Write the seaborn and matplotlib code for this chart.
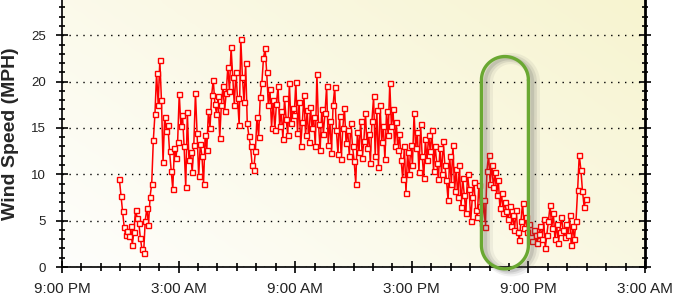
import numpy as np
import pandas as pd
import matplotlib
matplotlib.use("Agg")
import matplotlib.pyplot as plt
import matplotlib.dates as mdates
from matplotlib.lines import Line2D
from matplotlib.transforms import IdentityTransform
from matplotlib.colors import LinearSegmentedColormap
import seaborn as sns

# ---------------- data (wind speed, MPH, one reading every 5 minutes) ----------------
start_time = "2024-01-01 23:57"
interval = "5min"

wind_overnight = [
    9.5, 7.7, 6.0, 4.3, 3.4, 3.9, 3.3, 4.4, 2.4, 3.8, 6.2, 5.3,
    4.8, 3.1, 1.9, 1.5, 5.0, 6.4, 4.5, 7.6, 9.0, 13.7, 16.5, 20.9,
    17.5, 22.3, 18.0, 11.3, 16.2, 14.7, 15.3, 12.5, 10.4, 8.4, 12.8, 11.8,
    13.5, 18.7, 15.2, 16.4, 13.0, 8.6, 16.7, 11.5, 12.4, 10.2, 13.2, 18.8,
    14.5, 9.8, 13.3, 12.0, 9.0, 14.2, 12.6, 16.8, 15.0, 18.5, 20.2, 17.6,
    16.5, 18.4, 13.9, 17.5, 19.5, 16.8, 18.8, 21.6, 19.0, 23.7, 20.5, 17.5,
]
wind_morning = [
    21.0, 18.2, 15.3, 24.6, 20.5, 17.8, 22.0, 15.5, 14.1, 13.0, 11.0, 10.5,
    12.5, 16.2, 14.0, 18.3, 19.8, 22.5, 23.6, 21.0, 17.5, 19.2, 15.0, 18.0,
    14.8, 17.6, 19.5, 15.2, 16.8, 13.8, 18.2, 16.0, 14.2, 19.8, 15.5, 17.2,
    16.4, 20.0, 14.5, 17.8, 13.1, 15.6, 18.5, 14.2, 16.9, 13.5, 17.3, 15.0,
    16.2, 13.0, 20.8, 15.4, 12.6, 17.0, 14.4, 16.6, 19.5, 13.2, 15.8, 12.3,
    17.5, 19.4, 14.8, 12.2, 16.3, 11.6, 15.0, 17.2, 13.4, 14.8, 12.0, 15.5,
]
wind_afternoon = [
    13.0, 11.4, 9.0, 14.6, 12.4, 15.8, 11.8, 13.6, 16.6, 12.8, 14.4, 11.2,
    15.8, 18.4, 12.0, 16.9, 10.8, 17.5, 13.5, 15.2, 11.6, 16.8, 14.2, 19.8,
    15.2, 17.0, 13.0, 15.6, 12.6, 14.4, 11.5, 9.5, 13.0, 8.0, 12.4, 10.0,
    13.2, 11.0, 16.6, 12.8, 14.6, 10.2, 15.4, 12.0, 9.6, 13.8, 11.5, 14.2,
    12.5, 14.8, 10.4, 13.0, 11.2, 9.5, 12.8, 10.0, 13.6, 11.0, 9.4, 7.2,
    12.0, 9.0, 13.2, 8.2, 10.6, 7.5, 11.0, 6.5, 9.6, 7.8, 5.8, 10.0,
]
wind_evening = [
    8.4, 5.0, 7.6, 9.2, 6.2, 5.4, 8.8, 6.6, 4.7, 7.2, 4.3, 10.4,
    12.1, 9.0, 11.0, 8.6, 10.2, 7.8, 9.4, 6.4, 8.0, 5.8, 7.0, 6.0,
    5.2, 6.6, 4.4, 5.6, 4.0, 6.2, 3.8, 2.9, 5.0, 6.9, 4.2, 5.4,
    3.8, 4.6, 3.2, 2.8, 4.0, 3.4, 2.6, 3.6, 4.4, 3.0, 5.2, 2.0,
    3.5, 5.0, 6.7, 4.2, 5.8, 3.0, 4.6, 2.6, 3.8, 5.4, 4.0, 3.2,
    4.6, 3.4, 5.6, 2.4, 4.4, 3.0, 5.0, 8.3, 12.1, 10.5, 8.2, 6.5,
    7.3,
]

y_ticks = [0, 5, 10, 15, 20, 25]
x_range = ("2024-01-01 21:00", "2024-01-03 03:00")
highlight_range = ("2024-01-02 18:35", "2024-01-02 21:00")
highlight_y = (-0.2, 22.7)

wind = wind_overnight + wind_morning + wind_afternoon + wind_evening
times = pd.date_range(start=start_time, periods=len(wind), freq=interval)
df = pd.DataFrame({"time": times, "wind": wind})

# ---------------- figure ----------------
sns.set_theme(style="white")
plt.rcParams["font.family"] = ["Liberation Sans", "DejaVu Sans"]

fig = plt.figure(figsize=(6.8, 3.0), dpi=100)
ax = fig.add_axes([62 / 680, 33 / 300, 583 / 680, 267 / 300])

x0 = mdates.date2num(pd.Timestamp(x_range[0]))
x1 = mdates.date2num(pd.Timestamp(x_range[1]))
ymax = 28.8

# gradient background
gx, gy = np.meshgrid(np.linspace(0, 1, 200), np.linspace(0, 1, 100))
grad = 0.6 * gx + 0.4 * (1 - gy)
cmap = LinearSegmentedColormap.from_list("bg", ["#fefefc", "#f7f4d0"])
ax.imshow(grad, extent=[x0, x1, 0, ymax], origin="upper", aspect="auto",
          cmap=cmap, zorder=-5, interpolation="bicubic")

sns.lineplot(data=df, x="time", y="wind", ax=ax, estimator=None,
             color="#ff0000", linewidth=1.1, marker="s", markersize=3.6,
             markerfacecolor="#fffbea", markeredgecolor="#ff0000",
             markeredgewidth=1.0, zorder=3)

ax.set_xlim(x0, x1)
ax.set_ylim(0, ymax)
ax.set_xlabel("")
ax.set_ylabel("Wind Speed (MPH)", fontsize=14, fontweight="bold", labelpad=9)

ax.set_yticks(y_ticks)
ax.yaxis.set_minor_locator(plt.MultipleLocator(1))
ax.xaxis.set_major_locator(mdates.HourLocator(byhour=[3, 9, 15, 21]))
ax.xaxis.set_minor_locator(mdates.HourLocator(interval=1))
ax.xaxis.set_major_formatter(mdates.DateFormatter("%-I:%M %p"))

ax.yaxis.grid(True, linestyle=(0, (1, 4)), color="black", linewidth=1.0)
ax.xaxis.grid(False)
ax.set_axisbelow(True)

for side in ["left", "bottom", "right"]:
    ax.spines[side].set_visible(True)
    ax.spines[side].set_color("black")
    ax.spines[side].set_linewidth(1.2)
ax.spines["top"].set_visible(False)
ax.spines["right"].set_linewidth(2)

ax.tick_params(axis="y", which="major", direction="inout", length=9, width=1.2,
               labelsize=9.5, pad=7, left=True, right=True, colors="black",
               labelcolor="#222222")
ax.tick_params(axis="y", which="minor", direction="inout", length=5, width=1.2,
               left=True, right=True, colors="black")
ax.tick_params(axis="x", which="major", direction="inout", length=9, width=1.2,
               labelsize=11, pad=6, bottom=True, colors="black",
               labelcolor="#222222")
ax.tick_params(axis="x", which="minor", direction="inout", length=6, width=1.2,
               bottom=True, colors="black")

# highlight pill annotation (positioned from data coordinates, drawn in pixels)
hx0 = mdates.date2num(pd.Timestamp(highlight_range[0]))
hx1 = mdates.date2num(pd.Timestamp(highlight_range[1]))
(px0, py0) = ax.transData.transform((hx0, highlight_y[0]))
(px1, py1) = ax.transData.transform((hx1, highlight_y[1]))
r = (px1 - px0) / 2
cx = (px0 + px1) / 2
ang_top = np.linspace(0, np.pi, 60)
ang_bot = np.linspace(np.pi, 2 * np.pi, 60)
pill_x = np.concatenate([cx + r * np.cos(ang_top), cx + r * np.cos(ang_bot), [cx + r]])
pill_y = np.concatenate([py1 - r + r * np.sin(ang_top), py0 + r + r * np.sin(ang_bot),
                         [py1 - r]])

for off, lw, a in [(6, 8, 0.08), (5, 5, 0.12), (4, 2.5, 0.16)]:
    fig.add_artist(Line2D(pill_x + off, pill_y - 2, transform=IdentityTransform(),
                          color="#555555", linewidth=lw, alpha=a, zorder=4,
                          solid_joinstyle="round"))
fig.add_artist(Line2D(pill_x, pill_y, transform=IdentityTransform(),
                      color="#6aa832", linewidth=2.4, zorder=5,
                      solid_joinstyle="round"))

fig.savefig("out.png", dpi=100)
